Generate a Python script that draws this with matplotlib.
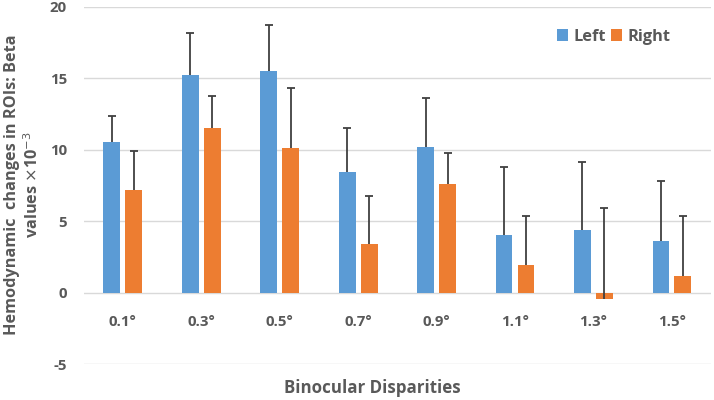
import numpy as np
import matplotlib
matplotlib.use('Agg')
import matplotlib.pyplot as plt

# data
disparities = ['0.1°', '0.3°', '0.5°', '0.7°', '0.9°', '1.1°', '1.3°', '1.5°']
left_values = [10.55, 15.25, 15.55, 8.45, 10.2, 4.0, 4.35, 3.6]
left_errors = [1.8, 2.9, 3.2, 3.1, 3.4, 4.8, 4.8, 4.2]
right_values = [7.2, 11.55, 10.1, 3.4, 7.6, 1.95, -0.45, 1.15]
right_errors = [2.7, 2.25, 4.25, 3.35, 2.15, 3.4, 6.35, 4.2]

color_left = '#5B9BD5'
color_right = '#ED7D31'
text_color = '#595959'

plt.rcParams['font.family'] = ['Open Sans', 'DejaVu Sans']
plt.rcParams['axes.unicode_minus'] = False


def plus_error_bars(ax, xpos, values, errors):
    # Excel style "plus" error bars: only the upper whisker with a cap
    eb = ax.errorbar(xpos, values, yerr=[np.zeros(len(values)), errors], fmt='none',
                     ecolor='#404040', elinewidth=1.3, capsize=3, capthick=1.3, zorder=4)
    for cap in eb[1]:
        if np.allclose(cap.get_ydata(), values):
            cap.set_visible(False)


fig = plt.figure(figsize=(7.14, 4.0), dpi=100)
ax = fig.add_axes([0.117, 0.09, 0.879, 0.8925])

x = np.arange(len(disparities))
width = 0.215
offset = 0.14

ax.bar(x - offset, left_values, width, color=color_left, label='Left', zorder=3)
ax.bar(x + offset, right_values, width, color=color_right, label='Right', zorder=3)
plus_error_bars(ax, x - offset, left_values, left_errors)
plus_error_bars(ax, x + offset, right_values, right_errors)

ax.set_ylim(-5, 20)
ax.set_xlim(-0.5, len(x) - 0.5)
ax.set_yticks([-5, 0, 5, 10, 15, 20])
ax.set_xticks(x)
ax.set_xticklabels(disparities)
# category labels sit next to the zero line, as in Excel
ax.spines['bottom'].set_position(('data', 0))
ax.tick_params(length=0, colors=text_color, labelsize=10.8)
ax.tick_params(axis='y', pad=12)
ax.tick_params(axis='x', pad=16)
for lab in ax.get_xticklabels() + ax.get_yticklabels():
    lab.set_fontweight('bold')

ax.grid(axis='y', color='#D9D9D9', linewidth=1, zorder=0)
ax.set_axisbelow(True)
for s in ax.spines.values():
    s.set_visible(False)

fig.text(372 / 714, 1 - 388 / 400, 'Binocular Disparities', fontsize=12.2,
         fontweight='bold', color=text_color, ha='center', va='center')
fig.text(23 / 714, 1 - 185 / 400,
         'Hemodynamic  changes in ROIs: Beta\nvalues $\\times$10$^{-3}$',
         fontsize=11.7, fontweight='bold', color=text_color, rotation=90,
         ha='center', va='center', linespacing=1.2, multialignment='center')

leg = ax.legend(loc='upper right', bbox_to_anchor=(0.958, 0.98), ncol=2,
                frameon=False, fontsize=11.8, handlelength=0.7, handleheight=0.7,
                handletextpad=0.3, columnspacing=0.3)
for t in leg.get_texts():
    t.set_color(text_color)
    t.set_fontweight('bold')

fig.savefig('out.png', dpi=100)
